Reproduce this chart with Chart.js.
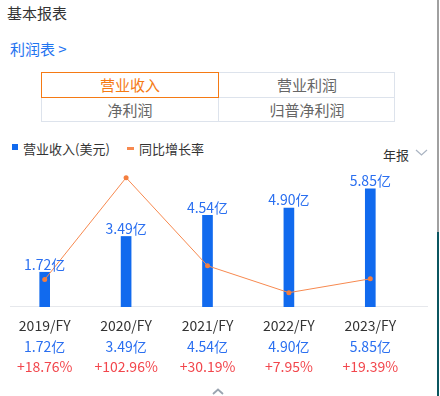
<!DOCTYPE html>
<html>
<head>
<meta charset="utf-8">
<script src="https://cdn.jsdelivr.net/npm/chart.js@4/dist/chart.umd.min.js"></script>
<style>
    body { margin: 0; width: 440px; height: 396px; background: #fff; position: relative; overflow: hidden;
           font-family: "Noto Sans CJK SC", "Noto Sans", sans-serif; }
    .abs { position: absolute; white-space: nowrap; }
    .title { left: 7px; top: 2px; font-size: 15px; color: #333; }
    .link { left: 10px; top: 38px; font-size: 15px; color: #1f74f0; }
    .tabs { left: 41px; top: 72px; width: 354px; height: 50px; border: 1px solid #dde3ec; box-sizing: border-box; }
    .tab { position: absolute; font-size: 15px; color: #666; text-align: center; line-height: 24px; }
    .tab.on { color: #f57a14; border: 1px solid #f57a14; box-sizing: border-box; z-index: 2; }
    .legend { top: 139px; font-size: 13px; color: #333; }
    .mark { position: absolute; }
    .period { left: 383px; top: 145px; font-size: 13px; color: #333; }
    .baseline { left: 10px; top: 306px; width: 418px; height: 1px; background: #e6e8ec; }
    .scroll { left: 437px; top: 0; width: 2px; height: 232px; background: #a0a0a0; }
    .scroll2 { left: 437px; top: 232px; width: 2px; height: 164px; background: #0b5660; }
    #wrap { position: absolute; left: 0; top: 160px; width: 415px; height: 222px; }
</style>
</head>
<body>
<div class="abs title">基本报表</div>
<div class="abs link">利润表 &gt;</div>
<div class="abs tabs">
    <div style="position:absolute;left:176px;top:0;width:1px;height:48px;background:#dde3ec;"></div>
    <div style="position:absolute;left:0;top:24px;width:352px;height:1px;background:#dde3ec;"></div>
    <div class="tab on" style="left:-1px;top:-1px;width:178px;height:26px;line-height:24px;">营业收入</div>
    <div class="tab" style="left:177px;top:0;width:176px;height:24px;">营业利润</div>
    <div class="tab" style="left:0;top:25px;width:176px;height:24px;">净利润</div>
    <div class="tab" style="left:177px;top:25px;width:176px;height:24px;">归普净利润</div>
</div>
<div class="mark" style="left:12px;top:144px;width:6px;height:6px;background:#116aee;"></div>
<div class="abs legend" style="left:23px;">营业收入(美元)</div>
<div class="mark" style="left:127px;top:147px;width:7px;height:3px;background:#f7894f;"></div>
<div class="abs legend" style="left:139px;">同比增长率</div>
<div class="abs period">年报</div>
<svg class="abs" style="left:415px;top:149px;" width="13" height="8"><polyline points="1,1 6.5,6 12,1" fill="none" stroke="#aab4c2" stroke-width="1.2"/></svg>
<div class="abs baseline"></div>
<div id="wrap"><canvas id="chart"></canvas></div>
<svg class="abs" style="left:212px;top:388px;" width="12" height="8"><polyline points="1,6 6,1.5 11,6" fill="none" stroke="#9aa4b0" stroke-width="1.8"/></svg>
<div class="abs scroll"></div>
<div class="abs scroll2"></div>

<script>
// Revenue (亿 USD) and YoY growth (%)
const years = ['2019/FY', '2020/FY', '2021/FY', '2022/FY', '2023/FY'];
const revenue = [1.72, 3.49, 4.54, 4.90, 5.85];
const growth = [18.76, 102.96, 30.19, 7.95, 19.39];

const BLUE = '#116aee';
const ORANGE = '#f7894f';

// Value labels above bars and the three-line footer under each category
const labelPlugin = {
    id: 'labels',
    afterDatasetsDraw(chart) {
        const ctx = chart.ctx;
        const x = chart.scales.x;
        const bars = chart.getDatasetMeta(1).data;
        ctx.save();
        ctx.textAlign = 'center';
        ctx.textBaseline = 'middle';
        ctx.font = '14px "Noto Sans CJK SC", sans-serif';
        bars.forEach((bar, i) => {
            ctx.fillStyle = '#2a6ff0';
            ctx.fillText(revenue[i].toFixed(2) + '亿', bar.x, bar.y - 8);
        });
        const base = chart.chartArea.bottom;
        years.forEach((year, i) => {
            const cx = x.getPixelForValue(i);
            ctx.fillStyle = '#333';
            ctx.fillText(year, cx, base + 19);
            ctx.fillStyle = '#2a6ff0';
            ctx.fillText(revenue[i].toFixed(2) + '亿', cx, base + 40);
            ctx.fillStyle = '#f2464c';
            ctx.fillText('+' + growth[i].toFixed(2) + '%', cx, base + 60);
        });
        ctx.restore();
    }
};

new Chart(document.getElementById('chart'), {
    data: {
        labels: years,
        datasets: [
            {
                type: 'line',
                data: growth,
                yAxisID: 'yLine',
                borderColor: ORANGE,
                borderWidth: 1,
                pointRadius: 2.5,
                pointBackgroundColor: '#f47e3e',
                pointBorderWidth: 0,
                tension: 0,
                order: 0
            },
            {
                type: 'bar',
                data: revenue,
                yAxisID: 'y',
                backgroundColor: BLUE,
                barThickness: 10,
                order: 1
            }
        ]
    },
    options: {
        responsive: true,
        maintainAspectRatio: false,
        animation: false,
        events: [],
        layout: { padding: { top: 10, bottom: 75, left: 0, right: 0 } },
        plugins: {
            legend: { display: false },
            tooltip: { enabled: false }
        },
        scales: {
            x: { display: false, offset: true, grid: { display: false } },
            y: { display: false, min: 0, max: 6.78 },
            yLine: { display: false, min: -3.9, max: 109.3 }
        }
    },
    plugins: [labelPlugin]
});
</script>
</body>
</html>
